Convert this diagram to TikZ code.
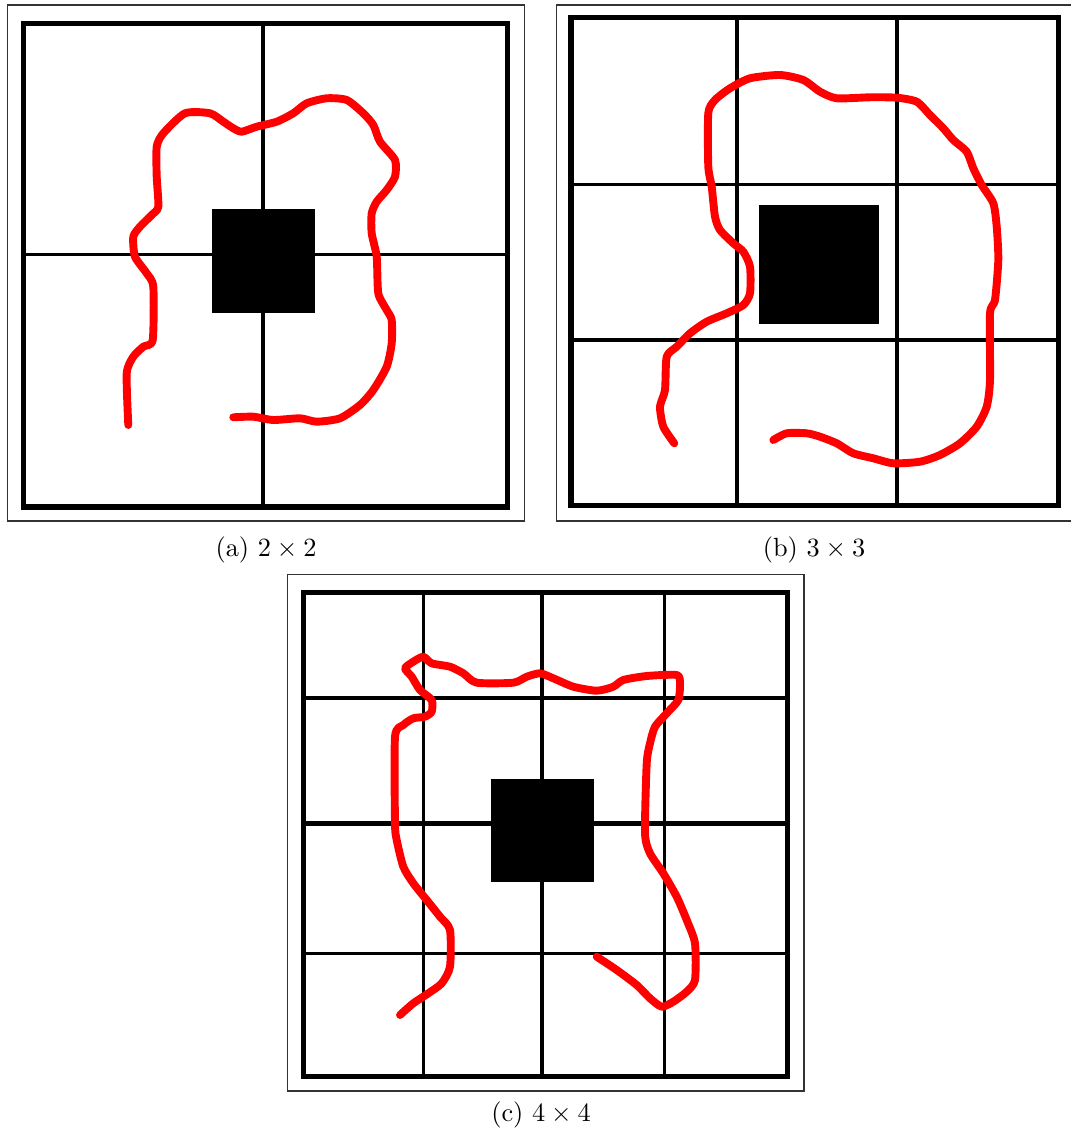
\documentclass[tikz,border=0pt]{standalone}
\begin{document}
\begin{tikzpicture}[x=0.38pt,y=-0.38pt,
  frame/.style={draw=black!80,line width=0.45pt},
  border/.style={draw=black,line width=1.95pt},
  gridline/.style={draw=black,line width=1.4pt},
  midline/.style={draw=black,line width=1.6pt},
  obstacle/.style={fill=black},
  redpath/.style={draw=red,line width=3pt,line cap=round,line join=round},
  caption/.style={anchor=base,inner sep=0pt}]
\useasboundingbox (0,0) rectangle (1071,1129);

% ---------- (a) 2x2 ----------
\draw[frame] (7.5,5) rectangle (524.3,521);
\draw[gridline] (262.7,23.3) -- (262.7,507);
\draw[gridline] (23.3,254.5) -- (507.5,254.5);
\draw[border] (23.3,23.3) rectangle (507.5,507);
\fill[obstacle] (211.7,209.3) rectangle (315,312.7);
\draw[redpath] plot[smooth,tension=0.4] coordinates {
 (128.3,425) (126.7,373.3) (133.3,356.7) (143.3,346.7) (152.7,340) (153.3,286.7)
 (146.7,273.3) (135,256.7) (133.3,236.7) (140,226.7) (151.7,215) (158.3,206.7)
 (156.7,176.7) (156.7,146.7) (163.3,133.3) (185,113.3) (210,113.3) (223.3,121.7)
 (233.3,128.3) (241.7,131.7) (256.7,126.7) (276.7,121.7) (293.3,113.3) (306.7,103.3)
 (326.7,98.3) (346.7,100) (363.3,113.3) (373.3,125) (380,141.7) (395,160) (395,176.7)
 (386.7,190) (376.7,201.7) (371.7,213.3) (371.7,233.3) (376.7,256.7) (378.3,293.3)
 (386.7,310) (391.7,320) (391.7,343.3) (386.7,366.7) (373.3,390) (360,405)
 (340,418.3) (316.7,421.7) (300,418.3) (273.3,420) (253.3,416.7) (233.3,417.3)};
\node[caption] (capa) at (266,556) {(a) $2\times 2$};

% ---------- (b) 3x3 ----------
\draw[frame] (556.7,5) rectangle (1074,521);
\draw[gridline] (737.3,17.7) -- (737.3,505.8);
\draw[gridline] (897.3,17.7) -- (897.3,505.8);
\draw[gridline] (567.5,184.5) -- (1058.7,184.5);
\draw[gridline] (567.5,340) -- (1058.7,340);
\draw[border] (571,17.7) rectangle (1058.7,505.8);
\fill[obstacle] (759,204.7) rectangle (878.7,324.3);
\draw[redpath] plot[smooth,tension=0.4] coordinates {
 (674.3,443.3) (663.3,426.7) (660,406.7) (665,390) (666.7,356.7) (676.7,346.7)
 (690,333.3) (706.7,321.7) (726.7,313.3) (743.3,305) (750,293.3) (750,266.7)
 (743.3,251.7) (733.3,243.3) (720,230) (715,216.7) (711.7,186.7) (708.3,166.7)
 (708.3,113.3) (715,100) (730,88.3) (750,78.3) (780,75) (803.3,80) (820,91.7)
 (836.7,98.3) (870,97.3) (896.7,97.7) (916.7,101.7) (930,115) (943.3,128.3)
 (953.3,140) (966.7,151.7) (973.3,168.3) (981.7,185) (993.3,203.3) (996.7,226.7)
 (998.3,260) (995,300) (990,313.3) (990,380) (986.7,406.7) (976.7,426.7)
 (960,443.3) (940,455) (920,461.7) (893.3,463.3) (873.3,458.3) (853.3,453.3)
 (836.7,443.3) (820,436.7) (806.7,433.3) (786.7,433.3) (773.3,440)};
\node[caption] (capb) at (814,556) {(b) $3\times 3$};

% ---------- (c) 4x4 ----------
\draw[frame] (287.7,574.7) rectangle (804,1091);
\draw[gridline] (423.5,592.8) -- (423.5,1076.5);
\draw[midline] (541.8,592.8) -- (541.8,1076.5);
\draw[gridline] (664.5,592.8) -- (664.5,1076.5);
\draw[gridline] (303.3,698) -- (787.5,698);
\draw[midline] (303.3,823.5) -- (787.5,823.5);
\draw[gridline] (303.3,953.5) -- (787.5,953.5);
\draw[border] (303.3,592.8) rectangle (787.5,1076.5);
\fill[obstacle] (491,779.3) rectangle (594.3,882.3);
\draw[redpath] plot[smooth,tension=0.4] coordinates {
 (400,1015) (413.3,1003.3) (428.3,993.3) (441.7,983.3) (450,966.7) (450,930)
 (440,916.7) (426.7,900) (413.3,883.3) (403.3,866.7) (396.7,840) (395,823.3)
 (395,736.7) (403.3,725) (413.3,718.3) (425,716.7) (431.7,711.7) (431.7,700)
 (420,690) (411.7,676.7) (405,668.3) (413.3,661.7) (423.3,656.7) (431.7,663.3)
 (450,666.7) (463.3,673.3) (476.7,682.7) (513.3,682.7) (526.7,676.7) (540,673.3)
 (553.3,678.3) (573.3,686.7) (596.7,690.7) (613.3,686.7) (623.3,680) (646.7,676)
 (676.7,675) (680,683.3) (678.3,700) (666.7,713.3) (655,726.7) (650,743.3)
 (646.7,763.3) (645,833.3) (650,853.3) (663.3,873.3) (676.7,896.7) (686.7,920)
 (695,943.3) (695,980) (686.7,991.7) (673.3,1001.7) (661.7,1006.7) (650,998.3)
 (636.7,985) (616.7,970) (596.7,956.7)};
\node[caption] (capc) at (541,1121) {(c) $4\times 4$};
\end{tikzpicture}
\end{document}
